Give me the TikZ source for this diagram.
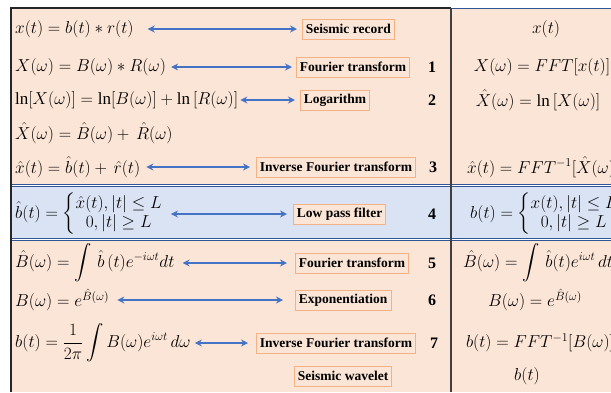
\documentclass[tikz,border=0pt]{standalone}
\usepackage{amsmath}
\usepackage{fontspec}
\setmainfont{Liberation Serif}
\usetikzlibrary{
    arrows.meta,
    positioning
}
\definecolor{peach}{HTML}{FBE5D6}
\definecolor{paleblue}{HTML}{DAE3F3}
\definecolor{boxorange}{HTML}{F4B183}
\definecolor{arrowblue}{HTML}{4472C4}
\definecolor{sepblue}{HTML}{2F5597}
\tikzstyle{biarrow} = [
    {Stealth[length=7pt,width=7pt]}-{Stealth[length=7pt,width=7pt]},
    line width=1.3pt,
    draw=arrowblue
]
\tikzstyle{stepname} = [
    draw=boxorange,
    fill=peach,
    line width=0.9pt,
    anchor=west,
    inner sep=3.5pt,
    minimum height=20pt,
    font=\bfseries\fontsize{13.5}{15}\selectfont
]
\tikzstyle{stepnum} = [
    font=\bfseries\fontsize{16}{18}\selectfont
]
\tikzstyle{eqn} = [
    anchor=west,
    inner sep=0pt,
    font=\fontsize{17}{19}\selectfont
]
\tikzstyle{rhs} = [
    inner sep=0pt,
    font=\fontsize{17}{19}\selectfont
]
\tikzstyle{sepline} = [
    draw=sepblue,
    line width=0.7pt,
    double=white,
    double distance=1.4pt
]

\begin{document}
\begin{tikzpicture}[x=1pt, y=-1pt]
    \useasboundingbox (0,0) rectangle (611,392);
    \clip (0,0) rectangle (611,392);

    % Panels
    \fill[peach] (10,8) rectangle (611,392);
    \fill[paleblue] (10,187) rectangle (611,238);
    \draw[sepline] (10,185.5) -- (611,185.5);
    \draw[sepline] (10,239.5) -- (611,239.5);

    % Frame
    \draw[line width=0.9pt, sepblue] (451,8) -- (611,8);
    \draw[line width=1.6pt, black!85] (10,8) -- (451,8);
    \draw[line width=2pt, black!85] (11,7.2) -- (11,392);
    \draw[line width=1.5pt, black!75] (451,8) -- (451,392);

    % Left column: equations
    \node[eqn] (eq0) at (15,29) {$x(t) = b(t) * r(t)$};
    \node[eqn] (eq1) at (15,67) {$X(\omega) = B(\omega) * R(\omega)$};
    \node[eqn] (eq2) at (15,100) {$\ln[X(\omega)] = \ln[B(\omega)] + \ln\,[R(\omega)]$};
    \node[eqn] (eq3) at (15,133) {$\hat{X}(\omega) = \hat{B}(\omega) +\, \hat{R}(\omega)$};
    \node[eqn] (eq4) at (15,167) {$\hat{x}(t) = \hat{b}(t) +\, \hat{r}(t)$};
    \node[eqn] (eq5) at (15,214) {$\hat{b}(t) = \left\{\begin{array}{@{}c@{}}\hat{x}(t), |t| \le L\\ 0, |t| \ge L\end{array}\right.$};
    \node[eqn] (eq6) at (15,263) {$\hat{B}(\omega) = \displaystyle\int\, \hat{b}\,(t)e^{-i\omega t}dt$};
    \node[eqn] (eq7) at (15,300) {$B(\omega) = e^{\hat{B}(\omega)}$};
    \node[eqn] (eq8) at (15,343) {$b(t) = \dfrac{1}{2\pi}\displaystyle\int B(\omega)e^{i\omega t}\,d\omega$};

    % Middle column: step names and numbers
    \node[stepname] (lab0) at (302,29) {Seismic record};
    \node[stepname] (lab1) at (296,67) {Fourier transform};
    \node[stepname] (lab2) at (300,100) {Logarithm};
    \node[stepname] (lab4) at (256,167) {Inverse Fourier transform};
    \node[stepname] (lab5) at (293,214) {Low pass filter};
    \node[stepname] (lab6) at (295,263) {Fourier transform};
    \node[stepname] (lab7) at (295,300) {Exponentiation};
    \node[stepname] (lab8) at (256,343) {Inverse Fourier transform};
    \node[stepname] (lab9) at (294,376) {Seismic wavelet};

    \node[stepnum] (num1) at (432,67) {1};
    \node[stepnum] (num2) at (432,100) {2};
    \node[stepnum] (num4) at (433,167) {3};
    \node[stepnum] (num5) at (432,214) {4};
    \node[stepnum] (num6) at (432,263) {5};
    \node[stepnum] (num7) at (432,300) {6};
    \node[stepnum] (num8) at (434,343) {7};

    % Arrows
    \draw[biarrow] ([xshift=14pt]eq0.east) -- ([xshift=-5pt]lab0.west);
    \draw[biarrow] ([xshift=5pt]eq1.east) -- ([xshift=-4pt]lab1.west);
    \draw[biarrow] ([xshift=2pt]eq2.east) -- ([xshift=-5pt]lab2.west);
    \draw[biarrow] ([xshift=6pt]eq4.east) -- ([xshift=-6pt]lab4.west);
    \draw[biarrow] ([xshift=8pt]eq5.east) -- ([xshift=-6pt]lab5.west);
    \draw[biarrow] ([xshift=8pt]eq6.east) -- ([xshift=-8pt]lab6.west);
    \draw[biarrow] ([xshift=8pt]eq7.east) -- ([xshift=-12pt]lab7.west);
    \draw[biarrow] ([xshift=4pt]eq8.east) -- ([xshift=-8pt]lab8.west);

    % Right column: operations
    \node[rhs] (op0) at (546,29) {$x(t)$};
    \node[rhs] (op1) at (542,67) {$X(\omega) = FFT[x(t)]$};
    \node[rhs] (op2) at (538,100) {$\hat{X}(\omega) = \ln\,[X(\omega)]$};
    \node[rhs, anchor=west] (op4) at (467,167) {$\hat{x}(t) = FFT^{-1}[\hat{X}(\omega)]$};
    \node[rhs, anchor=west] (op5) at (470,214) {$b(t) = \left\{\begin{array}{@{}c@{}}x(t), |t| \le L\\ 0, |t| \ge L\end{array}\right.$};
    \node[rhs, anchor=west] (op6) at (463,263) {$\hat{B}(\omega) = \displaystyle\int\, \hat{b}(t)e^{i\omega t}\,dt$};
    \node[rhs] (op7) at (535,300) {$B(\omega) = e^{\hat{B}(\omega)}$};
    \node[rhs] (op8) at (540,343) {$b(t) = FFT^{-1}[B(\omega)]$};
    \node[rhs] (op9) at (527,376) {$b(t)$};
\end{tikzpicture}
\end{document}
